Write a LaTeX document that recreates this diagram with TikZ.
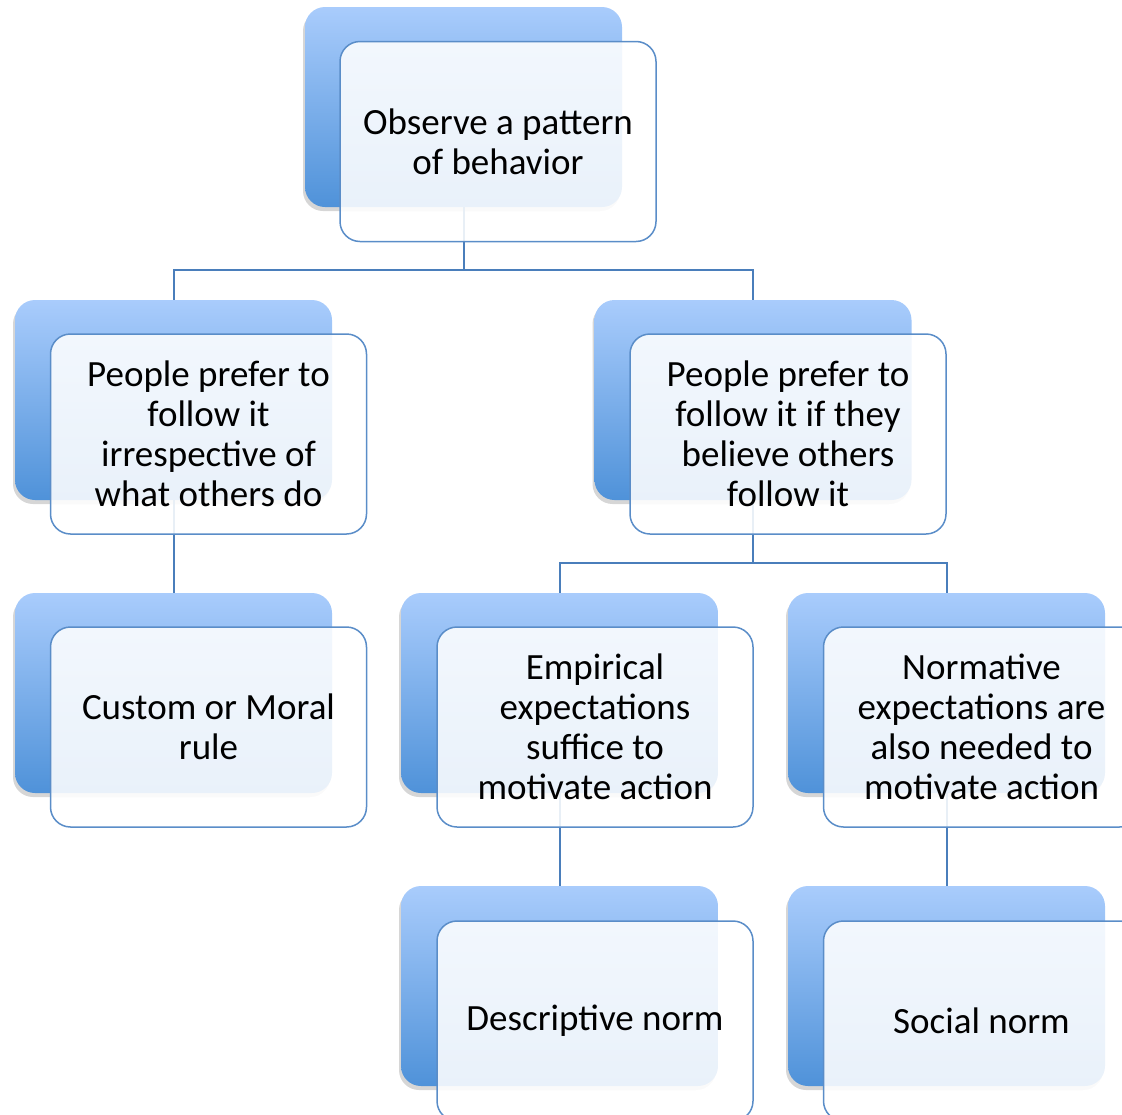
\documentclass[tikz,border=0pt]{standalone}
\usepackage{fontspec}
\setmainfont{Carlito}
\usetikzlibrary{shadows}
\definecolor{backtop}{HTML}{A9CCFC}
\definecolor{backbot}{HTML}{4F92D9}
\definecolor{edgeblue}{HTML}{5A8DC8}
\definecolor{linkblue}{HTML}{4A7EBB}
\tikzset{
  x=1pt, y=-1pt,
  backbox/.style={rounded corners=20pt, minimum width=317pt, minimum height=200pt,
    inner sep=0pt, top color=backtop, bottom color=backbot, draw=none,
    drop shadow={shadow xshift=-2pt, shadow yshift=-4pt, opacity=0.16, fill=black}},
  frontbox/.style={rounded corners=20pt, minimum width=316pt, minimum height=200pt,
    inner sep=0pt, fill=white, fill opacity=0.88, text opacity=1,
    draw=edgeblue, line width=1.5pt, align=center,
    font=\fontsize{37}{40}\selectfont, text=black},
  conn/.style={draw=linkblue, line width=2pt}
}
\begin{document}
\begin{tikzpicture}
\useasboundingbox (0,0) rectangle (1122,1114);
\clip (0,0) rectangle (1122,1114);
% coloured back panels
\node[backbox] (b1) at (463.5,107) {};
\node[backbox] (b2) at (173.5,400) {};
\node[backbox] (b3) at (753,400) {};
\node[backbox] (b4) at (173.5,693) {};
\node[backbox] (b5) at (559.5,693) {};
\node[backbox] (b6) at (946.5,693) {};
\node[backbox] (b7) at (559.5,986) {};
\node[backbox] (b8) at (946.5,986) {};
% tree connectors
\coordinate (j1) at (463.5,270);
\coordinate (j2) at (753,563);
\draw[conn] (b1.south) -- (j1) -| (b2.north);
\draw[conn] (j1) -| (b3.north);
\draw[conn] (b2.south) -- (b4.north);
\draw[conn] (b3.south) -- (j2) -| (b5.north);
\draw[conn] (j2) -| (b6.north);
\draw[conn] (b5.south) -- (b7.north);
\draw[conn] (b6.south) -- (b8.north);
% translucent text cards
\node[frontbox] (f1) at (498,141.5) {Observe a pattern\\of behavior};
\node[frontbox] (f2) at (208.5,434) {People prefer to\\follow it\\irrespective of\\what others do};
\node[frontbox] (f3) at (788,434) {People prefer to\\follow it if they\\believe others\\follow it};
\node[frontbox] (f4) at (208.5,727) {Custom or Moral\\rule};
\node[frontbox] (f5) at (595,727) {Empirical\\expectations\\suffice to\\motivate action};
\node[frontbox] (f6) at (981.5,727) {Normative\\expectations are\\also needed to\\motivate action};
\node[frontbox] (f7) at (595,1021) {Descriptive norm};
\node[frontbox] (f8) at (981.5,1021) {Social norm};
\end{tikzpicture}
\end{document}
